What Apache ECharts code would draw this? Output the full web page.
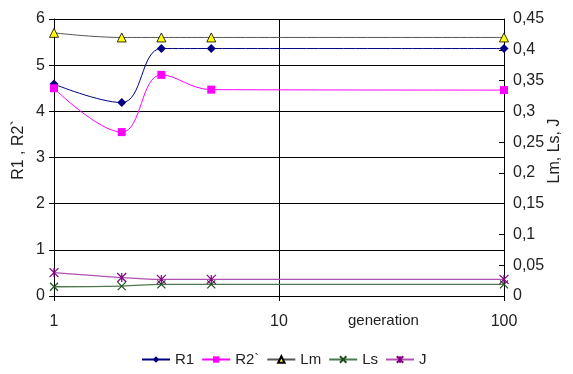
<!DOCTYPE html>
<html>
<head>
<meta charset="utf-8">
<script src="https://cdn.jsdelivr.net/npm/echarts@6/dist/echarts.min.js"></script>
<style>
  html, body { margin: 0; padding: 0; background: #fff; }
  #chart { width: 573px; height: 374px; }
</style>
</head>
<body>
<div id="chart"></div>
<script>
// generation values (log x axis)
const generations = [1, 2, 3, 5, 100];
// left axis series
const r1 = [4.59, 4.19, 5.36, 5.36, 5.36];
const r2 = [4.5, 3.55, 4.79, 4.47, 4.46];
// right axis series
const lm = [0.4275, 0.42, 0.42, 0.42, 0.42];
const ls = [0.015, 0.016, 0.019, 0.019, 0.019];
const jv = [0.038, 0.030, 0.027, 0.027, 0.027];

const leftTicks = { min: 0, max: 6, interval: 1 };
const rightTicks = { min: 0, max: 0.45, interval: 0.05 };

const font = "Liberation Sans";
const xSymbol = "path://M0,0 L10,10 M10,0 L0,10";
const starSymbol = "path://M0,0 L10,10 M10,0 L0,10 M5,0 L5,10";

function pairs(ys) {
  return generations.map((g, i) => [g, ys[i]]);
}

const chart = echarts.init(document.getElementById("chart"));

chart.setOption({
  backgroundColor: "#fff",
  animation: false,
  textStyle: { fontFamily: font },
  grid: { left: 54, right: 69, top: 19, bottom: 78 },
  legend: {
    bottom: 2,
    left: 136,
    itemWidth: 28,
    itemHeight: 8,
    itemGap: 7,
    textStyle: { fontSize: 15, color: "#222", fontFamily: font },
    data: ["R1", "R2`", "Lm", "Ls", "J"]
  },
  graphic: [
    {
      type: "text",
      left: 348,
      top: 313,
      style: { text: "generation", fontSize: 15, fill: "#222", fontFamily: font }
    },
    {
      type: "text",
      x: 11,
      y: 150,
      rotation: Math.PI / 2,
      style: { text: "R1 , R2`", fontSize: 16, fill: "#222", fontFamily: font, align: "center", verticalAlign: "top" }
    },
    {
      type: "text",
      x: 547,
      y: 151,
      rotation: Math.PI / 2,
      style: { text: "Lm, Ls, J", fontSize: 16, fill: "#222", fontFamily: font, align: "center", verticalAlign: "top" }
    }
  ],
  xAxis: {
    type: "log",
    logBase: 10,
    min: 1,
    max: 100,
    axisLine: { lineStyle: { color: "#000", width: 1 } },
    axisTick: { show: true, length: 5, lineStyle: { color: "#000" } },
    axisLabel: { color: "#222", fontSize: 16, margin: 18, fontFamily: font },
    splitLine: { show: true, lineStyle: { color: "#000", width: 1 } },
    minorTick: { show: false }
  },
  yAxis: [
    {
      type: "value",
      min: leftTicks.min,
      max: leftTicks.max,
      interval: leftTicks.interval,
      axisLine: { show: true, lineStyle: { color: "#000" } },
      axisTick: { show: true, length: 5, lineStyle: { color: "#000" } },
      axisLabel: { color: "#222", fontSize: 16, margin: 9, fontFamily: font },
      splitLine: { show: true, lineStyle: { color: "#000", width: 1 } }
    },
    {
      type: "value",
      position: "right",
      min: rightTicks.min,
      max: rightTicks.max,
      interval: rightTicks.interval,
      axisLine: { show: true, lineStyle: { color: "#000" } },
      axisTick: { show: true, inside: true, length: 5, lineStyle: { color: "#000" } },
      axisLabel: {
        color: "#222",
        fontSize: 16,
        margin: 9,
        fontFamily: font,
        formatter: (v) => String(+v.toFixed(2)).replace(".", ",")
      },
      splitLine: { show: false }
    }
  ],
  series: [
    {
      name: "R1",
      type: "line",
      yAxisIndex: 0,
      smooth: 0.4,
      symbol: "diamond",
      symbolSize: 9,
      lineStyle: { color: "#000080", width: 1 },
      itemStyle: { color: "#000080" },
      data: pairs(r1)
    },
    {
      name: "R2`",
      type: "line",
      yAxisIndex: 0,
      smooth: 0.4,
      symbol: "rect",
      symbolSize: 8,
      lineStyle: { color: "#ff00ff", width: 1 },
      itemStyle: { color: "#ff00ff" },
      data: pairs(r2)
    },
    {
      name: "Lm",
      type: "line",
      yAxisIndex: 1,
      smooth: 0.4,
      symbol: "triangle",
      symbolSize: 9,
      lineStyle: { color: "#555", width: 1 },
      itemStyle: { color: "#ffff00", borderColor: "#000", borderWidth: 0.8 },
      data: pairs(lm)
    },
    {
      name: "Ls",
      type: "line",
      yAxisIndex: 1,
      smooth: 0.4,
      symbol: xSymbol,
      symbolSize: 8,
      showAllSymbol: true,
      lineStyle: { color: "#4d7a4d", width: 1.3 },
      itemStyle: { color: "none", borderColor: "#1f4f1f", borderWidth: 1.2 },
      data: pairs(ls)
    },
    {
      name: "J",
      type: "line",
      yAxisIndex: 1,
      smooth: 0.4,
      symbol: starSymbol,
      symbolSize: 9,
      lineStyle: { color: "#b050b0", width: 1.3 },
      itemStyle: { color: "none", borderColor: "#800080", borderWidth: 1.2 },
      data: pairs(jv)
    }
  ]
});
</script>
</body>
</html>
